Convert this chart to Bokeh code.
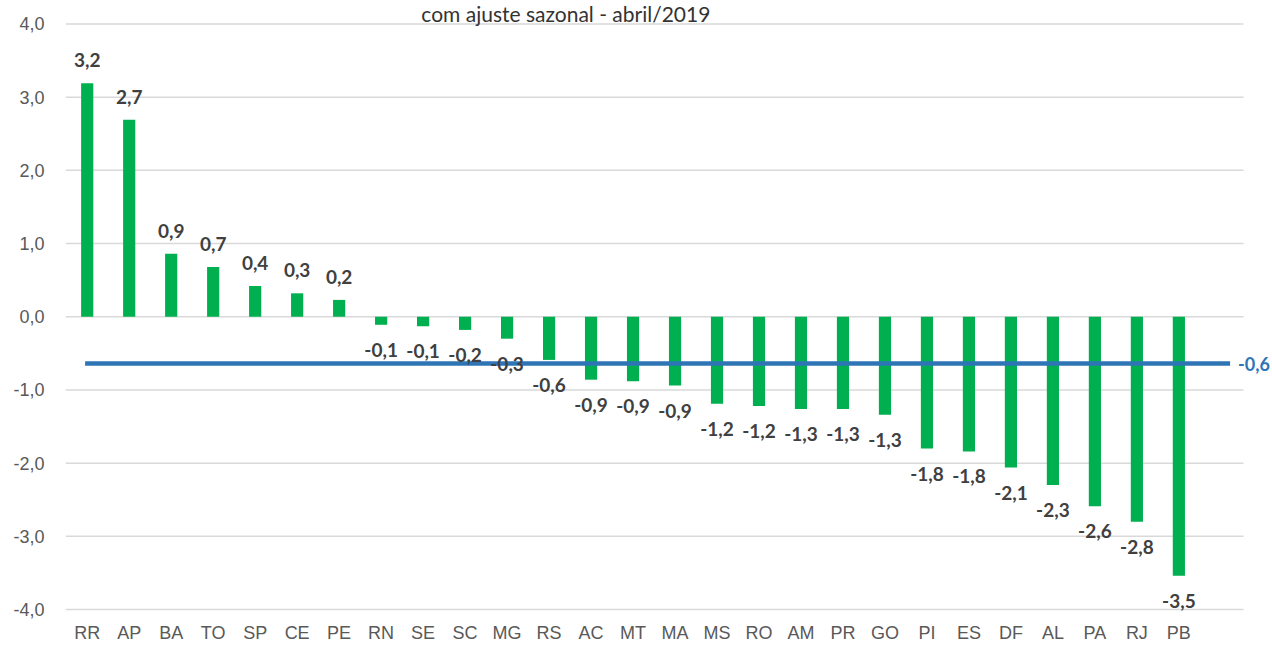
from bokeh.plotting import figure
from bokeh.models import Range1d, FixedTicker, ColumnDataSource, Label, LabelSet
from bokeh.core.properties import value
from bokeh.embed import file_html
from bokeh.resources import INLINE

# ---- data ----
ufs = ["RR", "AP", "BA", "TO", "SP", "CE", "PE", "RN", "SE", "SC", "MG", "RS", "AC", "MT",
       "MA", "MS", "RO", "AM", "PR", "GO", "PI", "ES", "DF", "AL", "PA", "RJ", "PB"]
variacao = [3.19, 2.69, 0.86, 0.68, 0.42, 0.32, 0.23, -0.11, -0.13, -0.18, -0.30, -0.59, -0.86, -0.88,
            -0.94, -1.19, -1.22, -1.26, -1.26, -1.34, -1.80, -1.84, -2.06, -2.30, -2.59, -2.80, -3.54]
media_brasil = -0.64
titulo = "com ajuste sazonal - abril/2019"
y_ticks = [-4, -3, -2, -1, 0, 1, 2, 3, 4]


def fmt(v):
    return f"{v:.1f}".replace(".", ",")


n = len(ufs)
xs = list(range(n))
rotulos = [fmt(v) for v in variacao]
yoff = [16 if v >= 0 else -32 for v in variacao]

src = ColumnDataSource(dict(x=xs, v=variacao, lab=rotulos, yoff=yoff))

x_start, grid_end, x_end = -0.517, n + 0.54, n + 1.23
y_start, y_end = -4.095, 4.32

p = figure(width=1272, height=645, output_backend="svg", toolbar_location=None,
           x_range=Range1d(x_start, x_end), y_range=Range1d(y_start, y_end),
           min_border_left=65, min_border_right=0, min_border_top=0, min_border_bottom=28)
p.outline_line_color = None
p.background_fill_color = "white"
p.border_fill_color = "white"
p.xgrid.grid_line_color = None
p.ygrid.grid_line_color = None

# horizontal gridlines
p.segment(x0=[x_start] * len(y_ticks), x1=[grid_end] * len(y_ticks), y0=y_ticks, y1=y_ticks,
          line_color="#D9D9D9", line_width=1.5)

p.vbar(x="x", top="v", bottom=0, width=0.29, source=src, fill_color="#00B050", line_color=None)

p.segment(x0=-0.05, x1=n + 0.22, y0=media_brasil, y1=media_brasil,
          line_color="#2E75B6", line_width=4.5)

labels = LabelSet(x="x", y="v", text="lab", y_offset="yoff", source=src,
                  text_align="center", text_baseline="alphabetic",
                  text_font=value("Lato"), text_font_style="bold", text_font_size="19px",
                  text_color="#404040")
p.add_layout(labels)

p.add_layout(Label(x=n + 0.22, y=media_brasil, x_offset=8, text=fmt(media_brasil),
                   text_align="left", text_baseline="middle",
                   text_font="Lato", text_font_style="bold", text_font_size="18px",
                   text_color="#2E75B6"))

p.add_layout(Label(x=11.4, y=y_end, y_offset=0, text=titulo,
                   text_align="center", text_baseline="top",
                   text_font="Lato", text_font_size="21px", text_color="#333333"))

# axes
p.xaxis.ticker = FixedTicker(ticks=xs)
p.xaxis.major_label_overrides = {i: u for i, u in enumerate(ufs)}
p.yaxis.ticker = FixedTicker(ticks=y_ticks)
p.yaxis.major_label_overrides = {t: fmt(t) for t in y_ticks}
for ax in (p.xaxis, p.yaxis):
    ax.axis_line_color = None
    ax.major_tick_line_color = None
    ax.minor_tick_line_color = None
    ax.major_tick_out = 0
    ax.major_tick_in = 0
    ax.major_label_text_font = "Liberation Sans"
    ax.major_label_text_font_size = "18px"
    ax.major_label_text_color = "#595959"
p.xaxis.major_label_standoff = 6
p.yaxis.major_label_standoff = 21

open("out.html", "w").write(file_html(p, INLINE))
